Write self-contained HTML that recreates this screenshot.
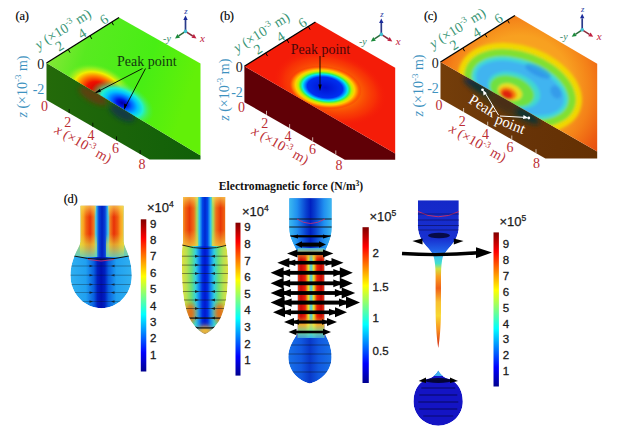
<!DOCTYPE html>
<html><head><meta charset="utf-8"><style>
html,body{margin:0;padding:0;background:#fff;overflow:hidden;}
svg{display:block;}
</style></head><body>
<svg width="631" height="435" viewBox="0 0 631 435">
<defs><filter id="blur1" x="-20%" y="-20%" width="140%" height="140%"><feGaussianBlur stdDeviation="1.2"/></filter><filter id="blur15" x="-20%" y="-20%" width="140%" height="140%"><feGaussianBlur stdDeviation="1.8"/></filter><filter id="blur2" x="-30%" y="-30%" width="160%" height="160%"><feGaussianBlur stdDeviation="2.5"/></filter><filter id="blur3" x="-30%" y="-30%" width="160%" height="160%"><feGaussianBlur stdDeviation="3.5"/></filter><clipPath id="ca_top"><polygon points="46.5,63.0 119.0,17.5 200.5,63.5 200.5,155.5"/></clipPath><clipPath id="ca_front"><polygon points="46.5,63.0 200.5,155.5 200.5,159.4 149.5,159.4 46.5,100.0"/></clipPath><linearGradient id="a_front" x1="0" y1="0" x2="1" y2="0"><stop offset="0" stop-color="#246a0a" stop-opacity="1"/><stop offset="0.5" stop-color="#1a640a" stop-opacity="1"/><stop offset="1" stop-color="#106008" stop-opacity="1"/></linearGradient><linearGradient id="a_top" x1="0" y1="0" x2="1" y2="0.3"><stop offset="0" stop-color="#98e840" stop-opacity="1"/><stop offset="0.3" stop-color="#58ea20" stop-opacity="1"/><stop offset="0.7" stop-color="#48ee14" stop-opacity="1"/><stop offset="1" stop-color="#62f008" stop-opacity="1"/></linearGradient><radialGradient id="a_red" cx="0.5" cy="0.5" r="0.5"><stop offset="0" stop-color="#c00000" stop-opacity="1"/><stop offset="0.34" stop-color="#f01000" stop-opacity="1"/><stop offset="0.54" stop-color="#ff8000" stop-opacity="1"/><stop offset="0.7" stop-color="#f0f000" stop-opacity="1"/><stop offset="0.86" stop-color="#a0f020" stop-opacity="0.6"/><stop offset="1" stop-color="#60ee20" stop-opacity="0"/></radialGradient><radialGradient id="a_blue" cx="0.5" cy="0.5" r="0.5"><stop offset="0" stop-color="#0000a0" stop-opacity="1"/><stop offset="0.15" stop-color="#0010e0" stop-opacity="1"/><stop offset="0.3" stop-color="#0060ff" stop-opacity="1"/><stop offset="0.48" stop-color="#00c0ff" stop-opacity="1"/><stop offset="0.65" stop-color="#20f0d0" stop-opacity="1"/><stop offset="0.82" stop-color="#40f080" stop-opacity="0.5"/><stop offset="1" stop-color="#40f040" stop-opacity="0"/></radialGradient><clipPath id="cb_top"><polygon points="244.4,66.2 315.4,22.0 395.2,67.8 395.2,153.4"/></clipPath><radialGradient id="b_blob" cx="0.5" cy="0.5" r="0.5"><stop offset="0" stop-color="#0010d0" stop-opacity="1"/><stop offset="0.48" stop-color="#0030f0" stop-opacity="1"/><stop offset="0.55" stop-color="#0090ff" stop-opacity="1"/><stop offset="0.61" stop-color="#00e8f0" stop-opacity="1"/><stop offset="0.67" stop-color="#40f050" stop-opacity="1"/><stop offset="0.73" stop-color="#c0f000" stop-opacity="1"/><stop offset="0.8" stop-color="#ffd000" stop-opacity="1"/><stop offset="0.9" stop-color="#ff7000" stop-opacity="1"/><stop offset="1" stop-color="#f81c08" stop-opacity="0"/></radialGradient><radialGradient id="b_halo" cx="0.5" cy="0.5" r="0.5"><stop offset="0" stop-color="#ffb000" stop-opacity="0.9"/><stop offset="0.5" stop-color="#ff9000" stop-opacity="0.65"/><stop offset="0.8" stop-color="#ff6000" stop-opacity="0.3"/><stop offset="1" stop-color="#f81c08" stop-opacity="0"/></radialGradient><clipPath id="cc_top"><polygon points="440.5,62.0 514.9,15.5 597.2,63.8 597.2,151.5"/></clipPath><clipPath id="cc_front"><polygon points="440.5,62.0 597.2,151.5 597.2,158.6 545.4,158.6 440.5,98.8"/></clipPath><radialGradient id="c_top" gradientUnits="userSpaceOnUse" cx="520" cy="88" r="105"><stop offset="0" stop-color="#f8b020"/><stop offset="0.5" stop-color="#f8a020"/><stop offset="0.68" stop-color="#f48018"/><stop offset="0.85" stop-color="#ec5c12"/><stop offset="1" stop-color="#e44810"/></radialGradient><linearGradient id="c_front" x1="0" y1="0" x2="1" y2="0"><stop offset="0" stop-color="#743e0a" stop-opacity="1"/><stop offset="0.5" stop-color="#683408" stop-opacity="1"/><stop offset="1" stop-color="#643002" stop-opacity="1"/></linearGradient><linearGradient id="jetv" x1="0" y1="1" x2="0" y2="0"><stop offset="0" stop-color="#00008f" stop-opacity="1"/><stop offset="0.125" stop-color="#0000ff" stop-opacity="1"/><stop offset="0.375" stop-color="#00ffff" stop-opacity="1"/><stop offset="0.625" stop-color="#ffff00" stop-opacity="1"/><stop offset="0.875" stop-color="#ff0000" stop-opacity="1"/><stop offset="1" stop-color="#800000" stop-opacity="1"/></linearGradient><linearGradient id="d1_neck" x1="0" y1="0" x2="1" y2="0"><stop offset="0" stop-color="#f0d040" stop-opacity="1"/><stop offset="0.08" stop-color="#f8a020" stop-opacity="1"/><stop offset="0.14" stop-color="#f06010" stop-opacity="1"/><stop offset="0.23" stop-color="#e83008" stop-opacity="1"/><stop offset="0.32" stop-color="#f08020" stop-opacity="1"/><stop offset="0.36" stop-color="#40d0f0" stop-opacity="1"/><stop offset="0.43" stop-color="#0840d8" stop-opacity="1"/><stop offset="0.5" stop-color="#0020c0" stop-opacity="1"/><stop offset="0.57" stop-color="#0840d8" stop-opacity="1"/><stop offset="0.64" stop-color="#40d0f0" stop-opacity="1"/><stop offset="0.68" stop-color="#f08020" stop-opacity="1"/><stop offset="0.77" stop-color="#e83008" stop-opacity="1"/><stop offset="0.86" stop-color="#f06010" stop-opacity="1"/><stop offset="0.92" stop-color="#f8a020" stop-opacity="1"/><stop offset="1" stop-color="#f0d040" stop-opacity="1"/></linearGradient><linearGradient id="d1_bulb" x1="0" y1="0" x2="1" y2="0"><stop offset="0" stop-color="#30b0f0" stop-opacity="1"/><stop offset="0.25" stop-color="#20a0f0" stop-opacity="1"/><stop offset="0.38" stop-color="#0860e0" stop-opacity="1"/><stop offset="0.44" stop-color="#0020c0" stop-opacity="1"/><stop offset="0.5" stop-color="#0010b0" stop-opacity="1"/><stop offset="0.56" stop-color="#0020c0" stop-opacity="1"/><stop offset="0.62" stop-color="#0860e0" stop-opacity="1"/><stop offset="0.75" stop-color="#20a0f0" stop-opacity="1"/><stop offset="1" stop-color="#30b0f0" stop-opacity="1"/></linearGradient><linearGradient id="top_yel" x1="0" y1="0" x2="0" y2="1"><stop offset="0" stop-color="#f8e060" stop-opacity="0.75"/><stop offset="1" stop-color="#f8d040" stop-opacity="0"/></linearGradient><linearGradient id="d1_fade" x1="0" y1="0" x2="0" y2="1"><stop offset="0" stop-color="#e0e040" stop-opacity="0"/><stop offset="0.45" stop-color="#e0e040" stop-opacity="0.6"/><stop offset="1" stop-color="#60d0c0" stop-opacity="0.9"/></linearGradient><clipPath id="cd1"><path d="M80.5,205.8 L123.6,205.8 L123.6,242 C125,249 131.8,258 131.8,276 C131.8,294 118,308.2 101.5,308.2 C85,308.2 70.5,294 70.5,276 C70.5,258 79,249 80.5,242 Z"/></clipPath><linearGradient id="d2_neck" x1="0" y1="0" x2="1" y2="0"><stop offset="0" stop-color="#f0d050" stop-opacity="1"/><stop offset="0.05" stop-color="#f8a030" stop-opacity="1"/><stop offset="0.11" stop-color="#f06010" stop-opacity="1"/><stop offset="0.19" stop-color="#e83808" stop-opacity="1"/><stop offset="0.28" stop-color="#f07018" stop-opacity="1"/><stop offset="0.34" stop-color="#a0e060" stop-opacity="1"/><stop offset="0.39" stop-color="#30c0f0" stop-opacity="1"/><stop offset="0.45" stop-color="#0048e8" stop-opacity="1"/><stop offset="0.5" stop-color="#0028d0" stop-opacity="1"/><stop offset="0.55" stop-color="#0048e8" stop-opacity="1"/><stop offset="0.61" stop-color="#30c0f0" stop-opacity="1"/><stop offset="0.66" stop-color="#a0e060" stop-opacity="1"/><stop offset="0.72" stop-color="#f07018" stop-opacity="1"/><stop offset="0.81" stop-color="#e83808" stop-opacity="1"/><stop offset="0.89" stop-color="#f06010" stop-opacity="1"/><stop offset="0.95" stop-color="#f8a030" stop-opacity="1"/><stop offset="1" stop-color="#f0d050" stop-opacity="1"/></linearGradient><linearGradient id="d2_body" x1="0" y1="0" x2="1" y2="0"><stop offset="0" stop-color="#e0e040" stop-opacity="1"/><stop offset="0.1" stop-color="#b8e050" stop-opacity="1"/><stop offset="0.2" stop-color="#70e070" stop-opacity="1"/><stop offset="0.3" stop-color="#30d0e0" stop-opacity="1"/><stop offset="0.38" stop-color="#1080f0" stop-opacity="1"/><stop offset="0.44" stop-color="#0030e0" stop-opacity="1"/><stop offset="0.5" stop-color="#0018d0" stop-opacity="1"/><stop offset="0.56" stop-color="#0030e0" stop-opacity="1"/><stop offset="0.62" stop-color="#1080f0" stop-opacity="1"/><stop offset="0.7" stop-color="#30d0e0" stop-opacity="1"/><stop offset="0.8" stop-color="#70e070" stop-opacity="1"/><stop offset="0.9" stop-color="#b8e050" stop-opacity="1"/><stop offset="1" stop-color="#e0e040" stop-opacity="1"/></linearGradient><linearGradient id="d2_bot" x1="0" y1="0" x2="0" y2="1"><stop offset="0" stop-color="#f08020" stop-opacity="0"/><stop offset="0.45" stop-color="#f08020" stop-opacity="0.85"/><stop offset="1" stop-color="#f8c030" stop-opacity="1"/></linearGradient><linearGradient id="d2_fade" x1="0" y1="0" x2="0" y2="1"><stop offset="0" stop-color="#f0d040" stop-opacity="0"/><stop offset="1" stop-color="#f0d040" stop-opacity="0.75"/></linearGradient><clipPath id="cd2"><path d="M183,197 L225.2,197 L225.2,243 C227.5,248 228,258 228,270 C228,292 226,308 219,321 C214,329 208,333 205,334 C202,333 196,329 191,321 C184,308 182,292 182,270 C182,258 181.5,248 183,243 Z"/></clipPath><linearGradient id="d3_top" x1="0" y1="0" x2="1" y2="0"><stop offset="0" stop-color="#40c0f0" stop-opacity="1"/><stop offset="0.2" stop-color="#2090f0" stop-opacity="1"/><stop offset="0.4" stop-color="#0840d0" stop-opacity="1"/><stop offset="0.5" stop-color="#0020c0" stop-opacity="1"/><stop offset="0.6" stop-color="#0840d0" stop-opacity="1"/><stop offset="0.8" stop-color="#2090f0" stop-opacity="1"/><stop offset="1" stop-color="#40c0f0" stop-opacity="1"/></linearGradient><linearGradient id="d3_col" x1="0" y1="0" x2="1" y2="0"><stop offset="0" stop-color="#e84010" stop-opacity="1"/><stop offset="0.12" stop-color="#c80808" stop-opacity="1"/><stop offset="0.28" stop-color="#e82008" stop-opacity="1"/><stop offset="0.4" stop-color="#e8e020" stop-opacity="1"/><stop offset="0.5" stop-color="#40c8f0" stop-opacity="1"/><stop offset="0.6" stop-color="#e8e020" stop-opacity="1"/><stop offset="0.72" stop-color="#e82008" stop-opacity="1"/><stop offset="0.88" stop-color="#c80808" stop-opacity="1"/><stop offset="1" stop-color="#e84010" stop-opacity="1"/></linearGradient><linearGradient id="d3_colbot" x1="0" y1="0" x2="0" y2="1"><stop offset="0" stop-color="#f0a020" stop-opacity="0"/><stop offset="0.4" stop-color="#f0e040" stop-opacity="0.75"/><stop offset="0.75" stop-color="#60e0b0" stop-opacity="0.9"/><stop offset="1" stop-color="#30b0f0" stop-opacity="0.9"/></linearGradient><linearGradient id="d3_coltop" x1="0" y1="0" x2="0" y2="1"><stop offset="0" stop-color="#40c0f0" stop-opacity="0.9"/><stop offset="0.4" stop-color="#f0d040" stop-opacity="0.8"/><stop offset="1" stop-color="#f08020" stop-opacity="0"/></linearGradient><linearGradient id="d3_bulb" x1="0" y1="0" x2="1" y2="0"><stop offset="0" stop-color="#1870e8" stop-opacity="1"/><stop offset="0.3" stop-color="#1058e0" stop-opacity="1"/><stop offset="0.5" stop-color="#0838c8" stop-opacity="1"/><stop offset="0.7" stop-color="#1058e0" stop-opacity="1"/><stop offset="1" stop-color="#1870e8" stop-opacity="1"/></linearGradient><clipPath id="cd3"><path d="M289.3,198.3 L331.6,198.3 L331.6,228 C331.6,238 327,246 324.5,252 L324.5,333 C327.5,339 331.6,346 331.6,357 C331.6,372 320,381 309.8,383.5 C299.6,381 288.3,372 288.3,357 C288.3,346 294.5,339 297.6,333 L297.6,252 C295,246 289.3,238 289.3,228 Z"/></clipPath><clipPath id="cd4"><path d="M417.9,200.2 L458.8,200.2 L458.8,226 C458.8,236 454,243 449,248 C446.5,251 444,254 443,257 L434,257 C433,254 430.5,251 428,248 C423,243 417.9,236 417.9,226 Z"/></clipPath><linearGradient id="d4_top" x1="0" y1="0" x2="0" y2="1"><stop offset="0" stop-color="#1428c8" stop-opacity="1"/><stop offset="0.68" stop-color="#1830d0" stop-opacity="1"/><stop offset="0.88" stop-color="#2060e8" stop-opacity="1"/><stop offset="1" stop-color="#30a0f0" stop-opacity="1"/></linearGradient><linearGradient id="d4_stream" x1="0" y1="0" x2="0" y2="1"><stop offset="0" stop-color="#40c0f0" stop-opacity="1"/><stop offset="0.08" stop-color="#40e0d0" stop-opacity="1"/><stop offset="0.14" stop-color="#d0e040" stop-opacity="1"/><stop offset="0.22" stop-color="#f8a020" stop-opacity="1"/><stop offset="0.35" stop-color="#f06018" stop-opacity="1"/><stop offset="0.5" stop-color="#f8c030" stop-opacity="1"/><stop offset="0.65" stop-color="#f8d830" stop-opacity="1"/><stop offset="0.8" stop-color="#f89020" stop-opacity="1"/><stop offset="1" stop-color="#d02010" stop-opacity="1"/></linearGradient><clipPath id="cd5"><path d="M438.3,370.5 C440,374 443,376.5 446,378 C456,380 462.8,389 462.8,401.5 C462.8,415 452,425.7 438.3,425.7 C424.6,425.7 413.5,415 413.5,401.5 C413.5,389 420,380 430.5,378 C433.5,376.5 436.5,374 438.3,370.5 Z"/></clipPath></defs>
<rect width="631" height="435" fill="#fff"/>
<polygon points="46.5,63.0 200.5,155.5 200.5,159.4 149.5,159.4 46.5,100.0" fill="url(#a_front)"/>
<polygon points="46.5,63.0 119.0,17.5 200.5,63.5 200.5,155.5" fill="url(#a_top)"/>
<g clip-path="url(#ca_top)"><ellipse cx="0" cy="0" rx="37" ry="25" fill="url(#a_red)" transform="translate(99 91) rotate(25)"/><ellipse cx="0" cy="0" rx="34" ry="20" fill="url(#a_blue)" transform="translate(122 103) rotate(25)"/></g>
<g clip-path="url(#ca_front)" filter="url(#blur2)"><ellipse cx="0" cy="0" rx="16" ry="6" fill="#6a3a0a" opacity="0.8" transform="translate(93 96) rotate(30)"/><ellipse cx="0" cy="0" rx="14" ry="6" fill="#0a2a5a" opacity="0.7" transform="translate(122 113) rotate(30)"/></g>
<polygon points="244.4,66.2 395.2,153.4 395.2,159.7 344.8,159.7 244.4,102.2" fill="#600006"/>
<polygon points="244.4,66.2 315.4,22.0 395.2,67.8 395.2,153.4" fill="#f41c08"/>
<g clip-path="url(#cb_top)"><ellipse cx="0" cy="0" rx="58" ry="36" fill="url(#b_halo)" transform="translate(330 88) rotate(15)"/><ellipse cx="0" cy="0" rx="37" ry="21.5" fill="url(#b_blob)" transform="translate(325 87.5) rotate(8)"/></g>
<polygon points="440.5,62.0 597.2,151.5 597.2,158.6 545.4,158.6 440.5,98.8" fill="url(#c_front)"/>
<polygon points="440.5,62.0 514.9,15.5 597.2,63.8 597.2,151.5" fill="url(#c_top)"/>
<g clip-path="url(#cc_top)"><g filter="url(#blur15)"><ellipse cx="0" cy="0" rx="64" ry="42" fill="#f0d800" transform="translate(520 88) rotate(20)"/><ellipse cx="0" cy="0" rx="58" ry="36" fill="#80e030" transform="translate(520 88) rotate(20)"/><ellipse cx="0" cy="0" rx="50" ry="28" fill="#40d8d8" transform="translate(520 88) rotate(20)"/><ellipse cx="0" cy="0" rx="46" ry="24" fill="#40b4f0" transform="translate(520 88) rotate(20)"/><ellipse cx="0" cy="0" rx="27" ry="17" fill="#40d8d0" transform="translate(514 90) rotate(20)"/><ellipse cx="0" cy="0" rx="23" ry="14.5" fill="#70e040" transform="translate(512 91) rotate(20)"/><ellipse cx="0" cy="0" rx="12.5" ry="8" fill="#e8e020" transform="translate(510 92) rotate(20)"/><ellipse cx="0" cy="0" rx="9" ry="6" fill="#f88010" transform="translate(508 93.5) rotate(20)"/><ellipse cx="0" cy="0" rx="6" ry="4.5" fill="#e02010" transform="translate(507 94.5) rotate(20)"/><ellipse cx="0" cy="0" rx="14" ry="5" fill="#2070e0" opacity="0.4" transform="translate(538 71) rotate(25)"/><ellipse cx="0" cy="0" rx="7" ry="5" fill="#2070e0" opacity="0.35" transform="translate(556 92) rotate(60)"/></g></g>
<g clip-path="url(#cc_front)" filter="url(#blur2)"><ellipse cx="0" cy="0" rx="15" ry="4.5" fill="#082a48" opacity="0.95" transform="translate(477 86) rotate(30)"/><ellipse cx="0" cy="0" rx="14" ry="4.5" fill="#082a48" opacity="0.95" transform="translate(527 116) rotate(30)"/><ellipse cx="0" cy="0" rx="13" ry="6" fill="#7a1a06" opacity="0.8" transform="translate(504 103) rotate(30)"/><ellipse cx="0" cy="0" rx="40" ry="8" fill="#1a3a20" opacity="0.5" transform="translate(505 104) rotate(30)"/></g>
<line x1="46.5" y1="63" x2="119" y2="17.5" stroke="#000" stroke-width="1.3"/>
<line x1="68.2" y1="49.4" x2="70.0" y2="52.6" stroke="#000" stroke-width="1"/>
<line x1="90.0" y1="35.7" x2="91.8" y2="38.9" stroke="#000" stroke-width="1"/>
<line x1="111.8" y1="22.0" x2="113.5" y2="25.2" stroke="#000" stroke-width="1"/>
<line x1="69.2" y1="113.1" x2="69.2" y2="109.1" stroke="#000" stroke-width="1" opacity="0.75"/>
<line x1="92.8" y1="126.7" x2="92.8" y2="122.7" stroke="#000" stroke-width="1" opacity="0.75"/>
<line x1="116.5" y1="140.4" x2="116.5" y2="136.4" stroke="#000" stroke-width="1" opacity="0.75"/>
<line x1="140.2" y1="154.1" x2="140.2" y2="150.1" stroke="#000" stroke-width="1" opacity="0.75"/>
<line x1="244.4" y1="66.2" x2="315.4" y2="22" stroke="#000" stroke-width="1.3"/>
<line x1="265.7" y1="52.9" x2="267.5" y2="56.1" stroke="#000" stroke-width="1"/>
<line x1="287.0" y1="39.7" x2="288.8" y2="42.9" stroke="#000" stroke-width="1"/>
<line x1="308.3" y1="26.4" x2="310.1" y2="29.6" stroke="#000" stroke-width="1"/>
<line x1="266.5" y1="114.8" x2="266.5" y2="110.8" stroke="#f0e8e0" stroke-width="1" opacity="0.75"/>
<line x1="289.6" y1="128.1" x2="289.6" y2="124.1" stroke="#f0e8e0" stroke-width="1" opacity="0.75"/>
<line x1="312.7" y1="141.3" x2="312.7" y2="137.3" stroke="#f0e8e0" stroke-width="1" opacity="0.75"/>
<line x1="335.8" y1="154.5" x2="335.8" y2="150.5" stroke="#f0e8e0" stroke-width="1" opacity="0.75"/>
<line x1="440.5" y1="62" x2="514.9" y2="15.5" stroke="#000" stroke-width="1.3"/>
<line x1="462.8" y1="48.0" x2="464.6" y2="51.2" stroke="#000" stroke-width="1"/>
<line x1="485.1" y1="34.1" x2="486.9" y2="37.3" stroke="#000" stroke-width="1"/>
<line x1="507.5" y1="20.1" x2="509.3" y2="23.3" stroke="#000" stroke-width="1"/>
<line x1="463.6" y1="112.0" x2="463.6" y2="108.0" stroke="#f0e8e0" stroke-width="1" opacity="0.75"/>
<line x1="487.7" y1="125.7" x2="487.7" y2="121.7" stroke="#f0e8e0" stroke-width="1" opacity="0.75"/>
<line x1="511.8" y1="139.5" x2="511.8" y2="135.5" stroke="#f0e8e0" stroke-width="1" opacity="0.75"/>
<line x1="536.0" y1="153.2" x2="536.0" y2="149.2" stroke="#f0e8e0" stroke-width="1" opacity="0.75"/>
<text x="62.0" y="50.0" font-family='"Liberation Serif", serif' font-size="14" fill="#3a9676" text-anchor="middle" font-weight="normal" font-style="normal" transform="rotate(-32 62.0 50.0)">2</text>
<text x="84.5" y="37.5" font-family='"Liberation Serif", serif' font-size="14" fill="#3a9676" text-anchor="middle" font-weight="normal" font-style="normal" transform="rotate(-32 84.5 37.5)">4</text>
<text x="106.5" y="23.5" font-family='"Liberation Serif", serif' font-size="14" fill="#3a9676" text-anchor="middle" font-weight="normal" font-style="normal" transform="rotate(-32 106.5 23.5)">6</text>
<text x="65.5" y="33.0" font-family='"Liberation Serif", serif' font-size="14" fill="#3a9676" text-anchor="middle" font-weight="normal" font-style="normal" transform="rotate(-32 65.5 33.0)"><tspan font-style="italic">y</tspan> (×10<tspan font-size="9" dy="-5.5">-3</tspan><tspan dy="5.5"> m)</tspan></text>
<text x="40.8" y="68.5" font-family='"Liberation Serif", serif' font-size="14" fill="#222" text-anchor="middle" font-weight="normal" font-style="normal">0</text>
<text x="38.5" y="93.5" font-family='"Liberation Serif", serif' font-size="14" fill="#3e92c0" text-anchor="middle" font-weight="normal" font-style="normal">-2</text>
<text x="26.5" y="86.5" font-family='"Liberation Serif", serif' font-size="14" fill="#3e92c0" text-anchor="middle" font-weight="normal" font-style="normal" transform="rotate(-90 26.5 86.5)"><tspan font-style="italic">z</tspan> (×10<tspan font-size="9" dy="-5.5">-3</tspan><tspan dy="5.5"> m)</tspan></text>
<text x="44.5" y="111.0" font-family='"Liberation Serif", serif' font-size="14" fill="#bc2e34" text-anchor="middle" font-weight="normal" font-style="normal">0</text>
<text x="67.7" y="126.5" font-family='"Liberation Serif", serif' font-size="14" fill="#bc2e34" text-anchor="middle" font-weight="normal" font-style="normal">2</text>
<text x="91.0" y="140.0" font-family='"Liberation Serif", serif' font-size="14" fill="#bc2e34" text-anchor="middle" font-weight="normal" font-style="normal">4</text>
<text x="115.4" y="153.0" font-family='"Liberation Serif", serif' font-size="14" fill="#bc2e34" text-anchor="middle" font-weight="normal" font-style="normal">6</text>
<text x="142.0" y="168.5" font-family='"Liberation Serif", serif' font-size="14" fill="#bc2e34" text-anchor="middle" font-weight="normal" font-style="normal">8</text>
<text x="81.0" y="148.0" font-family='"Liberation Serif", serif' font-size="14" fill="#bc2e34" text-anchor="middle" font-weight="normal" font-style="normal" transform="rotate(30 81.0 148.0)"><tspan font-style="italic">x</tspan> (×10<tspan font-size="9" dy="-5.5">-3</tspan><tspan dy="5.5"> m)</tspan></text>
<text x="260.5" y="53.2" font-family='"Liberation Serif", serif' font-size="14" fill="#3a9676" text-anchor="middle" font-weight="normal" font-style="normal" transform="rotate(-32 260.5 53.2)">2</text>
<text x="283.0" y="40.7" font-family='"Liberation Serif", serif' font-size="14" fill="#3a9676" text-anchor="middle" font-weight="normal" font-style="normal" transform="rotate(-32 283.0 40.7)">4</text>
<text x="305.0" y="26.7" font-family='"Liberation Serif", serif' font-size="14" fill="#3a9676" text-anchor="middle" font-weight="normal" font-style="normal" transform="rotate(-32 305.0 26.7)">6</text>
<text x="264.0" y="36.2" font-family='"Liberation Serif", serif' font-size="14" fill="#3a9676" text-anchor="middle" font-weight="normal" font-style="normal" transform="rotate(-32 264.0 36.2)"><tspan font-style="italic">y</tspan> (×10<tspan font-size="9" dy="-5.5">-3</tspan><tspan dy="5.5"> m)</tspan></text>
<text x="239.3" y="71.7" font-family='"Liberation Serif", serif' font-size="14" fill="#222" text-anchor="middle" font-weight="normal" font-style="normal">0</text>
<text x="237.0" y="96.7" font-family='"Liberation Serif", serif' font-size="14" fill="#3e92c0" text-anchor="middle" font-weight="normal" font-style="normal">-2</text>
<text x="229.0" y="89.7" font-family='"Liberation Serif", serif' font-size="14" fill="#3e92c0" text-anchor="middle" font-weight="normal" font-style="normal" transform="rotate(-90 229.0 89.7)"><tspan font-style="italic">z</tspan> (×10<tspan font-size="9" dy="-5.5">-3</tspan><tspan dy="5.5"> m)</tspan></text>
<text x="241.5" y="112.2" font-family='"Liberation Serif", serif' font-size="14" fill="#bc2e34" text-anchor="middle" font-weight="normal" font-style="normal">0</text>
<text x="264.7" y="127.7" font-family='"Liberation Serif", serif' font-size="14" fill="#bc2e34" text-anchor="middle" font-weight="normal" font-style="normal">2</text>
<text x="288.0" y="141.2" font-family='"Liberation Serif", serif' font-size="14" fill="#bc2e34" text-anchor="middle" font-weight="normal" font-style="normal">4</text>
<text x="312.4" y="154.2" font-family='"Liberation Serif", serif' font-size="14" fill="#bc2e34" text-anchor="middle" font-weight="normal" font-style="normal">6</text>
<text x="339.0" y="169.7" font-family='"Liberation Serif", serif' font-size="14" fill="#bc2e34" text-anchor="middle" font-weight="normal" font-style="normal">8</text>
<text x="278.0" y="149.2" font-family='"Liberation Serif", serif' font-size="14" fill="#bc2e34" text-anchor="middle" font-weight="normal" font-style="normal" transform="rotate(30 278.0 149.2)"><tspan font-style="italic">x</tspan> (×10<tspan font-size="9" dy="-5.5">-3</tspan><tspan dy="5.5"> m)</tspan></text>
<text x="456.5" y="49.0" font-family='"Liberation Serif", serif' font-size="14" fill="#3a9676" text-anchor="middle" font-weight="normal" font-style="normal" transform="rotate(-32 456.5 49.0)">2</text>
<text x="479.0" y="36.5" font-family='"Liberation Serif", serif' font-size="14" fill="#3a9676" text-anchor="middle" font-weight="normal" font-style="normal" transform="rotate(-32 479.0 36.5)">4</text>
<text x="501.0" y="22.5" font-family='"Liberation Serif", serif' font-size="14" fill="#3a9676" text-anchor="middle" font-weight="normal" font-style="normal" transform="rotate(-32 501.0 22.5)">6</text>
<text x="460.0" y="32.0" font-family='"Liberation Serif", serif' font-size="14" fill="#3a9676" text-anchor="middle" font-weight="normal" font-style="normal" transform="rotate(-32 460.0 32.0)"><tspan font-style="italic">y</tspan> (×10<tspan font-size="9" dy="-5.5">-3</tspan><tspan dy="5.5"> m)</tspan></text>
<text x="435.3" y="67.5" font-family='"Liberation Serif", serif' font-size="14" fill="#222" text-anchor="middle" font-weight="normal" font-style="normal">0</text>
<text x="433.0" y="92.5" font-family='"Liberation Serif", serif' font-size="14" fill="#3e92c0" text-anchor="middle" font-weight="normal" font-style="normal">-2</text>
<text x="423.0" y="85.5" font-family='"Liberation Serif", serif' font-size="14" fill="#3e92c0" text-anchor="middle" font-weight="normal" font-style="normal" transform="rotate(-90 423.0 85.5)"><tspan font-style="italic">z</tspan> (×10<tspan font-size="9" dy="-5.5">-3</tspan><tspan dy="5.5"> m)</tspan></text>
<text x="439.0" y="110.0" font-family='"Liberation Serif", serif' font-size="14" fill="#bc2e34" text-anchor="middle" font-weight="normal" font-style="normal">0</text>
<text x="462.2" y="125.5" font-family='"Liberation Serif", serif' font-size="14" fill="#bc2e34" text-anchor="middle" font-weight="normal" font-style="normal">2</text>
<text x="485.5" y="139.0" font-family='"Liberation Serif", serif' font-size="14" fill="#bc2e34" text-anchor="middle" font-weight="normal" font-style="normal">4</text>
<text x="509.9" y="152.0" font-family='"Liberation Serif", serif' font-size="14" fill="#bc2e34" text-anchor="middle" font-weight="normal" font-style="normal">6</text>
<text x="536.5" y="167.5" font-family='"Liberation Serif", serif' font-size="14" fill="#bc2e34" text-anchor="middle" font-weight="normal" font-style="normal">8</text>
<text x="475.5" y="147.0" font-family='"Liberation Serif", serif' font-size="14" fill="#bc2e34" text-anchor="middle" font-weight="normal" font-style="normal" transform="rotate(30 475.5 147.0)"><tspan font-style="italic">x</tspan> (×10<tspan font-size="9" dy="-5.5">-3</tspan><tspan dy="5.5"> m)</tspan></text>
<text letter-spacing="-0.3" stroke="#000" stroke-width="0.15" x="22.1" y="19.6" font-family='"Liberation Serif", serif' font-size="12.5" fill="#000" text-anchor="middle" font-weight="normal" font-style="normal">(a)</text>
<text letter-spacing="-0.3" stroke="#000" stroke-width="0.15" x="226.9" y="20.2" font-family='"Liberation Serif", serif' font-size="12.5" fill="#000" text-anchor="middle" font-weight="normal" font-style="normal">(b)</text>
<text letter-spacing="-0.3" stroke="#000" stroke-width="0.15" x="430.5" y="19.8" font-family='"Liberation Serif", serif' font-size="12.5" fill="#000" text-anchor="middle" font-weight="normal" font-style="normal">(c)</text>
<line x1="185.5" y1="31.4" x2="185.5" y2="19.9" stroke="#2a3a8a" stroke-width="1.7"/>
<polygon points="185.5,15.4 187.7,19.9 183.3,19.9" fill="#1a2a9a"/>
<line x1="185.5" y1="31.4" x2="178.7" y2="35.9" stroke="#2a6a3a" stroke-width="1.5"/>
<polygon points="175.0,38.4 177.5,34.1 180.0,37.7" fill="#1a8a3a"/>
<line x1="185.5" y1="31.4" x2="192.7" y2="36.0" stroke="#8a2a3a" stroke-width="1.5"/>
<polygon points="196.5,38.4 191.5,37.8 193.9,34.1" fill="#c02040"/>
<circle cx="185.5" cy="31.4" r="1.8" fill="#40c0d0"/>
<text x="186.0" y="13.9" font-family='"Liberation Serif", serif' font-size="8.5" fill="#2a3aa0" text-anchor="middle" font-weight="normal" font-style="italic">z</text>
<text x="167.0" y="41.9" font-family='"Liberation Serif", serif' font-size="10" fill="#3a8a6a" text-anchor="middle" font-weight="normal" font-style="italic">-y</text>
<text x="202.5" y="41.9" font-family='"Liberation Serif", serif' font-size="11" fill="#c02040" text-anchor="middle" font-weight="normal" font-style="italic">x</text>
<line x1="381.3" y1="34.4" x2="381.3" y2="22.9" stroke="#2a3a8a" stroke-width="1.7"/>
<polygon points="381.3,18.4 383.5,22.9 379.1,22.9" fill="#1a2a9a"/>
<line x1="381.3" y1="34.4" x2="374.5" y2="38.9" stroke="#2a6a3a" stroke-width="1.5"/>
<polygon points="370.8,41.4 373.3,37.1 375.8,40.7" fill="#1a8a3a"/>
<line x1="381.3" y1="34.4" x2="388.5" y2="39.0" stroke="#8a2a3a" stroke-width="1.5"/>
<polygon points="392.3,41.4 387.3,40.8 389.7,37.1" fill="#c02040"/>
<circle cx="381.3" cy="34.4" r="1.8" fill="#40c0d0"/>
<text x="381.8" y="16.9" font-family='"Liberation Serif", serif' font-size="8.5" fill="#2a3aa0" text-anchor="middle" font-weight="normal" font-style="italic">z</text>
<text x="362.8" y="44.9" font-family='"Liberation Serif", serif' font-size="10" fill="#3a8a6a" text-anchor="middle" font-weight="normal" font-style="italic">-y</text>
<text x="398.3" y="44.9" font-family='"Liberation Serif", serif' font-size="11" fill="#c02040" text-anchor="middle" font-weight="normal" font-style="italic">x</text>
<line x1="582.2" y1="29.8" x2="582.2" y2="18.3" stroke="#2a3a8a" stroke-width="1.7"/>
<polygon points="582.2,13.8 584.4,18.3 580.0,18.3" fill="#1a2a9a"/>
<line x1="582.2" y1="29.8" x2="575.4" y2="34.3" stroke="#2a6a3a" stroke-width="1.5"/>
<polygon points="571.7,36.8 574.2,32.5 576.7,36.1" fill="#1a8a3a"/>
<line x1="582.2" y1="29.8" x2="589.4" y2="34.4" stroke="#8a2a3a" stroke-width="1.5"/>
<polygon points="593.2,36.8 588.2,36.2 590.6,32.5" fill="#c02040"/>
<circle cx="582.2" cy="29.8" r="1.8" fill="#40c0d0"/>
<text x="582.7" y="12.3" font-family='"Liberation Serif", serif' font-size="8.5" fill="#2a3aa0" text-anchor="middle" font-weight="normal" font-style="italic">z</text>
<text x="563.7" y="40.3" font-family='"Liberation Serif", serif' font-size="10" fill="#3a8a6a" text-anchor="middle" font-weight="normal" font-style="italic">-y</text>
<text x="599.2" y="40.3" font-family='"Liberation Serif", serif' font-size="11" fill="#c02040" text-anchor="middle" font-weight="normal" font-style="italic">x</text>
<text x="146.8" y="66.2" font-family='"Liberation Serif", serif' font-size="14" fill="#123a10" text-anchor="middle" font-weight="normal" font-style="normal">Peak point</text>
<line x1="142.5" y1="68.5" x2="96" y2="92.5" stroke="#000" stroke-width="0.9"/>
<polygon points="94.5,93.3 100,88.8 100.8,91.8" fill="#000"/>
<line x1="145.5" y1="68.5" x2="124.5" y2="108.5" stroke="#000" stroke-width="0.9"/>
<polygon points="124,110 124.2,103.6 127.0,105.1" fill="#000"/>
<text x="320.5" y="53.5" font-family='"Liberation Serif", serif' font-size="14" fill="#4a0808" text-anchor="middle" font-weight="normal" font-style="normal">Peak point</text>
<line x1="320" y1="56" x2="320" y2="88" stroke="#000" stroke-width="0.9"/>
<polygon points="318.3,84.5 321.7,84.5 320,91" fill="#000"/>
<text x="480.0" y="110.0" font-family='"Liberation Serif", serif' font-size="15" fill="#fff" text-anchor="middle" font-weight="normal" font-style="normal" transform="rotate(32 480.0 110.0)">Peak</text>
<text x="508.5" y="128.5" font-family='"Liberation Serif", serif' font-size="15" fill="#fff" text-anchor="middle" font-weight="normal" font-style="normal" transform="rotate(22 508.5 128.5)">point</text>
<line x1="498.6" y1="115.2" x2="484.5" y2="92" stroke="#fff" stroke-width="1"/>
<polygon points="483,90 483.5,95.5 486.8,93.3" fill="#fff"/>
<circle cx="482.5" cy="89.8" r="1.4" fill="#fff"/>
<line x1="500" y1="116" x2="527" y2="117.5" stroke="#fff" stroke-width="1"/>
<polygon points="528.5,118 523.5,115 523,119" fill="#fff"/>
<circle cx="528.8" cy="118" r="1.4" fill="#fff"/>
<text letter-spacing="-0.3" stroke="#000" stroke-width="0.15" x="70.6" y="202.9" font-family='"Liberation Serif", serif' font-size="12.5" fill="#000" text-anchor="middle" font-weight="normal" font-style="normal">(d)</text>
<text x="291.0" y="190.0" font-family='"Liberation Serif", serif' font-size="11.6" fill="#111" text-anchor="middle" font-weight="bold" font-style="normal">Electromagnetic force (N/m<tspan font-size="7.5" dy="-4">3</tspan><tspan dy="4">)</tspan></text>
<rect x="140.8" y="219.3" width="5.5" height="152.2" fill="url(#jetv)"/>
<text stroke="#1a1a1a" stroke-width="0.3" x="150.1" y="227.5" font-family='"Liberation Sans", sans-serif' font-size="11.5" fill="#1a1a1a" text-anchor="start" font-weight="normal" font-style="normal">9</text>
<text stroke="#1a1a1a" stroke-width="0.3" x="150.1" y="243.9" font-family='"Liberation Sans", sans-serif' font-size="11.5" fill="#1a1a1a" text-anchor="start" font-weight="normal" font-style="normal">8</text>
<text stroke="#1a1a1a" stroke-width="0.3" x="150.1" y="260.3" font-family='"Liberation Sans", sans-serif' font-size="11.5" fill="#1a1a1a" text-anchor="start" font-weight="normal" font-style="normal">7</text>
<text stroke="#1a1a1a" stroke-width="0.3" x="150.1" y="276.7" font-family='"Liberation Sans", sans-serif' font-size="11.5" fill="#1a1a1a" text-anchor="start" font-weight="normal" font-style="normal">6</text>
<text stroke="#1a1a1a" stroke-width="0.3" x="150.1" y="293.1" font-family='"Liberation Sans", sans-serif' font-size="11.5" fill="#1a1a1a" text-anchor="start" font-weight="normal" font-style="normal">5</text>
<text stroke="#1a1a1a" stroke-width="0.3" x="150.1" y="309.5" font-family='"Liberation Sans", sans-serif' font-size="11.5" fill="#1a1a1a" text-anchor="start" font-weight="normal" font-style="normal">4</text>
<text stroke="#1a1a1a" stroke-width="0.3" x="150.1" y="325.9" font-family='"Liberation Sans", sans-serif' font-size="11.5" fill="#1a1a1a" text-anchor="start" font-weight="normal" font-style="normal">3</text>
<text stroke="#1a1a1a" stroke-width="0.3" x="150.1" y="342.3" font-family='"Liberation Sans", sans-serif' font-size="11.5" fill="#1a1a1a" text-anchor="start" font-weight="normal" font-style="normal">2</text>
<text stroke="#1a1a1a" stroke-width="0.3" x="150.1" y="358.7" font-family='"Liberation Sans", sans-serif' font-size="11.5" fill="#1a1a1a" text-anchor="start" font-weight="normal" font-style="normal">1</text>
<text stroke="#1a1a1a" stroke-width="0.25" x="147.0" y="212.0" font-family='"Liberation Sans", sans-serif' font-size="13" fill="#1a1a1a" text-anchor="start" font-weight="normal" font-style="normal">×10<tspan font-size="8.5" dy="-5">4</tspan></text>
<rect x="235.5" y="222.7" width="5.0" height="152.9" fill="url(#jetv)"/>
<text stroke="#1a1a1a" stroke-width="0.3" x="244.3" y="231.4" font-family='"Liberation Sans", sans-serif' font-size="11.5" fill="#1a1a1a" text-anchor="start" font-weight="normal" font-style="normal">9</text>
<text stroke="#1a1a1a" stroke-width="0.3" x="244.3" y="248.0" font-family='"Liberation Sans", sans-serif' font-size="11.5" fill="#1a1a1a" text-anchor="start" font-weight="normal" font-style="normal">8</text>
<text stroke="#1a1a1a" stroke-width="0.3" x="244.3" y="264.6" font-family='"Liberation Sans", sans-serif' font-size="11.5" fill="#1a1a1a" text-anchor="start" font-weight="normal" font-style="normal">7</text>
<text stroke="#1a1a1a" stroke-width="0.3" x="244.3" y="281.2" font-family='"Liberation Sans", sans-serif' font-size="11.5" fill="#1a1a1a" text-anchor="start" font-weight="normal" font-style="normal">6</text>
<text stroke="#1a1a1a" stroke-width="0.3" x="244.3" y="297.8" font-family='"Liberation Sans", sans-serif' font-size="11.5" fill="#1a1a1a" text-anchor="start" font-weight="normal" font-style="normal">5</text>
<text stroke="#1a1a1a" stroke-width="0.3" x="244.3" y="314.4" font-family='"Liberation Sans", sans-serif' font-size="11.5" fill="#1a1a1a" text-anchor="start" font-weight="normal" font-style="normal">4</text>
<text stroke="#1a1a1a" stroke-width="0.3" x="244.3" y="331.0" font-family='"Liberation Sans", sans-serif' font-size="11.5" fill="#1a1a1a" text-anchor="start" font-weight="normal" font-style="normal">3</text>
<text stroke="#1a1a1a" stroke-width="0.3" x="244.3" y="347.6" font-family='"Liberation Sans", sans-serif' font-size="11.5" fill="#1a1a1a" text-anchor="start" font-weight="normal" font-style="normal">2</text>
<text stroke="#1a1a1a" stroke-width="0.3" x="244.3" y="364.2" font-family='"Liberation Sans", sans-serif' font-size="11.5" fill="#1a1a1a" text-anchor="start" font-weight="normal" font-style="normal">1</text>
<text stroke="#1a1a1a" stroke-width="0.25" x="242.0" y="216.0" font-family='"Liberation Sans", sans-serif' font-size="13" fill="#1a1a1a" text-anchor="start" font-weight="normal" font-style="normal">×10<tspan font-size="8.5" dy="-5">4</tspan></text>
<rect x="362.5" y="227.2" width="6.3" height="155.8" fill="url(#jetv)"/>
<text stroke="#1a1a1a" stroke-width="0.3" x="372.6" y="256.6" font-family='"Liberation Sans", sans-serif' font-size="11.5" fill="#1a1a1a" text-anchor="start" font-weight="normal" font-style="normal">2</text>
<text stroke="#1a1a1a" stroke-width="0.3" x="372.6" y="291.1" font-family='"Liberation Sans", sans-serif' font-size="11.5" fill="#1a1a1a" text-anchor="start" font-weight="normal" font-style="normal">1.5</text>
<text stroke="#1a1a1a" stroke-width="0.3" x="372.6" y="322.4" font-family='"Liberation Sans", sans-serif' font-size="11.5" fill="#1a1a1a" text-anchor="start" font-weight="normal" font-style="normal">1</text>
<text stroke="#1a1a1a" stroke-width="0.3" x="372.6" y="355.1" font-family='"Liberation Sans", sans-serif' font-size="11.5" fill="#1a1a1a" text-anchor="start" font-weight="normal" font-style="normal">0.5</text>
<text stroke="#1a1a1a" stroke-width="0.25" x="369.5" y="220.5" font-family='"Liberation Sans", sans-serif' font-size="13" fill="#1a1a1a" text-anchor="start" font-weight="normal" font-style="normal">×10<tspan font-size="8.5" dy="-5">5</tspan></text>
<rect x="493.5" y="232.4" width="5.4" height="154.1" fill="url(#jetv)"/>
<text stroke="#1a1a1a" stroke-width="0.3" x="502.7" y="248.4" font-family='"Liberation Sans", sans-serif' font-size="11.5" fill="#1a1a1a" text-anchor="start" font-weight="normal" font-style="normal">9</text>
<text stroke="#1a1a1a" stroke-width="0.3" x="502.7" y="264.2" font-family='"Liberation Sans", sans-serif' font-size="11.5" fill="#1a1a1a" text-anchor="start" font-weight="normal" font-style="normal">8</text>
<text stroke="#1a1a1a" stroke-width="0.3" x="502.7" y="280.1" font-family='"Liberation Sans", sans-serif' font-size="11.5" fill="#1a1a1a" text-anchor="start" font-weight="normal" font-style="normal">7</text>
<text stroke="#1a1a1a" stroke-width="0.3" x="502.7" y="295.9" font-family='"Liberation Sans", sans-serif' font-size="11.5" fill="#1a1a1a" text-anchor="start" font-weight="normal" font-style="normal">6</text>
<text stroke="#1a1a1a" stroke-width="0.3" x="502.7" y="311.8" font-family='"Liberation Sans", sans-serif' font-size="11.5" fill="#1a1a1a" text-anchor="start" font-weight="normal" font-style="normal">5</text>
<text stroke="#1a1a1a" stroke-width="0.3" x="502.7" y="327.6" font-family='"Liberation Sans", sans-serif' font-size="11.5" fill="#1a1a1a" text-anchor="start" font-weight="normal" font-style="normal">4</text>
<text stroke="#1a1a1a" stroke-width="0.3" x="502.7" y="343.4" font-family='"Liberation Sans", sans-serif' font-size="11.5" fill="#1a1a1a" text-anchor="start" font-weight="normal" font-style="normal">3</text>
<text stroke="#1a1a1a" stroke-width="0.3" x="502.7" y="359.3" font-family='"Liberation Sans", sans-serif' font-size="11.5" fill="#1a1a1a" text-anchor="start" font-weight="normal" font-style="normal">2</text>
<text stroke="#1a1a1a" stroke-width="0.3" x="502.7" y="375.1" font-family='"Liberation Sans", sans-serif' font-size="11.5" fill="#1a1a1a" text-anchor="start" font-weight="normal" font-style="normal">1</text>
<text stroke="#1a1a1a" stroke-width="0.25" x="499.5" y="225.5" font-family='"Liberation Sans", sans-serif' font-size="13" fill="#1a1a1a" text-anchor="start" font-weight="normal" font-style="normal">×10<tspan font-size="8.5" dy="-5">5</tspan></text>
<g clip-path="url(#cd1)"><path d="M80.5,205.8 L123.6,205.8 L123.6,242 C125,249 131.8,258 131.8,276 C131.8,294 118,308.2 101.5,308.2 C85,308.2 70.5,294 70.5,276 C70.5,258 79,249 80.5,242 Z" fill="url(#d1_bulb)"/><rect x="80" y="205" width="44" height="52" fill="url(#d1_neck)"/><rect x="80" y="205" width="16" height="12" fill="url(#top_yel)"/><rect x="108" y="205" width="16" height="12" fill="url(#top_yel)"/><rect x="70" y="234" width="27" height="23" fill="url(#d1_fade)"/><rect x="106" y="234" width="27" height="23" fill="url(#d1_fade)"/><path d="M74,256 Q101,262.5 129,256" stroke="#111" stroke-width="1" fill="none"/><path d="M88,259.5 Q101,262.5 114,259.5" stroke="#e03060" stroke-width="0.8" fill="none"/><line x1="70" y1="266" x2="132" y2="266" stroke="#111" stroke-width="0.6" opacity="0.55"/><polygon points="93,266 89.5,264.7 89.5,267.3" fill="#111" opacity="0.7"/><polygon points="111,266 114.5,264.7 114.5,267.3" fill="#111" opacity="0.7"/><line x1="70" y1="275.2" x2="132" y2="275.2" stroke="#111" stroke-width="0.6" opacity="0.55"/><polygon points="93,275.2 89.5,273.9 89.5,276.5" fill="#111" opacity="0.7"/><polygon points="111,275.2 114.5,273.9 114.5,276.5" fill="#111" opacity="0.7"/><line x1="70" y1="284.5" x2="132" y2="284.5" stroke="#111" stroke-width="0.6" opacity="0.55"/><polygon points="93,284.5 89.5,283.2 89.5,285.8" fill="#111" opacity="0.7"/><polygon points="111,284.5 114.5,283.2 114.5,285.8" fill="#111" opacity="0.7"/><line x1="70" y1="292.6" x2="132" y2="292.6" stroke="#111" stroke-width="0.6" opacity="0.55"/><polygon points="93,292.6 89.5,291.3 89.5,293.90000000000003" fill="#111" opacity="0.7"/><polygon points="111,292.6 114.5,291.3 114.5,293.90000000000003" fill="#111" opacity="0.7"/><line x1="70" y1="301.6" x2="132" y2="301.6" stroke="#111" stroke-width="0.6" opacity="0.55"/><polygon points="93,301.6 89.5,300.3 89.5,302.90000000000003" fill="#111" opacity="0.7"/><polygon points="111,301.6 114.5,300.3 114.5,302.90000000000003" fill="#111" opacity="0.7"/></g>
<g clip-path="url(#cd2)"><path d="M183,197 L225.2,197 L225.2,243 C227.5,248 228,258 228,270 C228,292 226,308 219,321 C214,329 208,333 205,334 C202,333 196,329 191,321 C184,308 182,292 182,270 C182,258 181.5,248 183,243 Z" fill="url(#d2_body)"/><rect x="180" y="196" width="50" height="50" fill="url(#d2_neck)"/><rect x="180" y="196" width="18" height="12" fill="url(#top_yel)"/><rect x="212" y="196" width="18" height="12" fill="url(#top_yel)"/><rect x="180" y="230" width="18" height="16" fill="url(#d2_fade)"/><rect x="212" y="230" width="18" height="16" fill="url(#d2_fade)"/><g filter="url(#blur2)"><ellipse cx="190.5" cy="313" rx="5" ry="10" fill="#f06010" opacity="0.9"/><ellipse cx="219.5" cy="313" rx="5" ry="10" fill="#f06010" opacity="0.9"/><ellipse cx="205" cy="331" rx="8" ry="5" fill="#f8c030"/></g><path d="M182,245 Q205,252 228,245" stroke="#111" stroke-width="0.9" fill="none"/><line x1="180" y1="256.2" x2="230" y2="256.2" stroke="#111" stroke-width="0.7" opacity="0.7"/><polygon points="199,256.2 195,254.7 195,257.7" fill="#111" opacity="0.8"/><polygon points="211,256.2 215,254.7 215,257.7" fill="#111" opacity="0.8"/><line x1="180" y1="265.1" x2="230" y2="265.1" stroke="#111" stroke-width="0.7" opacity="0.7"/><polygon points="199,265.1 195,263.6 195,266.6" fill="#111" opacity="0.8"/><polygon points="211,265.1 215,263.6 215,266.6" fill="#111" opacity="0.8"/><line x1="180" y1="273.6" x2="230" y2="273.6" stroke="#111" stroke-width="0.7" opacity="0.7"/><polygon points="199,273.6 195,272.1 195,275.1" fill="#111" opacity="0.8"/><polygon points="211,273.6 215,272.1 215,275.1" fill="#111" opacity="0.8"/><line x1="180" y1="282.7" x2="230" y2="282.7" stroke="#111" stroke-width="0.7" opacity="0.7"/><polygon points="199,282.7 195,281.2 195,284.2" fill="#111" opacity="0.8"/><polygon points="211,282.7 215,281.2 215,284.2" fill="#111" opacity="0.8"/><line x1="180" y1="291.6" x2="230" y2="291.6" stroke="#111" stroke-width="0.7" opacity="0.7"/><polygon points="199,291.6 195,290.1 195,293.1" fill="#111" opacity="0.8"/><polygon points="211,291.6 215,290.1 215,293.1" fill="#111" opacity="0.8"/><line x1="180" y1="300" x2="230" y2="300" stroke="#111" stroke-width="0.7" opacity="0.7"/><polygon points="199,300 195,298.5 195,301.5" fill="#111" opacity="0.8"/><polygon points="211,300 215,298.5 215,301.5" fill="#111" opacity="0.8"/><line x1="180" y1="308.5" x2="230" y2="308.5" stroke="#111" stroke-width="0.7" opacity="0.7"/><polygon points="199,308.5 195,307.0 195,310.0" fill="#111" opacity="0.8"/><polygon points="211,308.5 215,307.0 215,310.0" fill="#111" opacity="0.8"/><line x1="180" y1="318.1" x2="230" y2="318.1" stroke="#111" stroke-width="1.8" opacity="0.7"/><polygon points="199,318.1 195,316.6 195,319.6" fill="#111" opacity="0.8"/><polygon points="211,318.1 215,316.6 215,319.6" fill="#111" opacity="0.8"/><line x1="180" y1="327.8" x2="230" y2="327.8" stroke="#111" stroke-width="1.8" opacity="0.7"/><polygon points="199,327.8 195,326.3 195,329.3" fill="#111" opacity="0.8"/><polygon points="211,327.8 215,326.3 215,329.3" fill="#111" opacity="0.8"/></g>
<g clip-path="url(#cd3)"><path d="M289.3,198.3 L331.6,198.3 L331.6,228 C331.6,238 327,246 324.5,252 L324.5,333 C327.5,339 331.6,346 331.6,357 C331.6,372 320,381 309.8,383.5 C299.6,381 288.3,372 288.3,357 C288.3,346 294.5,339 297.6,333 L297.6,252 C295,246 289.3,238 289.3,228 Z" fill="url(#d3_bulb)"/><rect x="288" y="198" width="45" height="56" fill="url(#d3_top)"/><rect x="297.6" y="252" width="26.9" height="86" fill="url(#d3_col)"/><rect x="297.6" y="316" width="26.9" height="22" fill="url(#d3_colbot)"/><rect x="297.6" y="248" width="26.9" height="12" fill="url(#d3_coltop)"/><path d="M288,219 L333,219 M288,227 L333,227" stroke="#111" stroke-width="0.9"/><path d="M288,236 L333,236" stroke="#111" stroke-width="1.6"/><path d="M297,219 Q310,228 325,219" stroke="#d03070" stroke-width="0.8" fill="none"/><line x1="286" y1="345" x2="334" y2="345" stroke="#111" stroke-width="0.6" opacity="0.7"/><line x1="286" y1="354" x2="334" y2="354" stroke="#111" stroke-width="0.6" opacity="0.7"/><line x1="286" y1="363" x2="334" y2="363" stroke="#111" stroke-width="0.6" opacity="0.7"/><line x1="286" y1="372" x2="334" y2="372" stroke="#111" stroke-width="0.6" opacity="0.7"/></g>
<rect x="297.5" y="235.4" width="26.0" height="2.0" fill="#000"/><polygon points="291.0,236.4 298.0,234.4 298.0,238.4" fill="#000"/><polygon points="330.0,236.4 323.0,234.4 323.0,238.4" fill="#000"/>
<rect x="301.5" y="242.6" width="18.0" height="4.0" fill="#000"/><polygon points="295.0,244.6 302.0,241.3 302.0,247.8" fill="#000"/><polygon points="326.0,244.6 319.0,241.3 319.0,247.8" fill="#000"/>
<rect x="296.9" y="251.7" width="26.5" height="3.4" fill="#000"/><polygon points="287.0,253.4 297.4,249.4 297.4,257.4" fill="#000"/><polygon points="333.4,253.4 323.0,249.4 323.0,257.4" fill="#000"/>
<rect x="288.8" y="260.9" width="43.2" height="3.6" fill="#000"/><polygon points="277.3,262.7 289.3,257.9 289.3,267.4" fill="#000"/><polygon points="343.5,262.7 331.5,257.9 331.5,267.4" fill="#000"/><polygon points="286.3,262.7 295.3,259.4 295.3,266.0" fill="#000"/><polygon points="334.5,262.7 325.5,259.4 325.5,266.0" fill="#000"/>
<rect x="283.1" y="270.9" width="57.2" height="3.8" fill="#000"/><polygon points="270.6,272.8 283.6,267.3 283.6,278.3" fill="#000"/><polygon points="352.8,272.8 339.8,267.3 339.8,278.3" fill="#000"/><polygon points="280.4,272.8 290.1,268.9 290.1,276.7" fill="#000"/><polygon points="343.1,272.8 333.3,268.9 333.3,276.7" fill="#000"/>
<rect x="283.1" y="281.4" width="57.2" height="3.8" fill="#000"/><polygon points="270.6,283.3 283.6,277.8 283.6,288.8" fill="#000"/><polygon points="352.8,283.3 339.8,277.8 339.8,288.8" fill="#000"/><polygon points="280.4,283.3 290.1,279.4 290.1,287.2" fill="#000"/><polygon points="343.1,283.3 333.3,279.4 333.3,287.2" fill="#000"/>
<rect x="283.6" y="291.1" width="58.6" height="3.8" fill="#000"/><polygon points="270.6,293.0 284.1,287.5 284.1,298.5" fill="#000"/><polygon points="355.2,293.0 341.7,287.5 341.7,298.5" fill="#000"/><polygon points="280.7,293.0 290.9,289.1 290.9,296.9" fill="#000"/><polygon points="345.1,293.0 334.9,289.1 334.9,296.9" fill="#000"/>
<rect x="284.1" y="300.6" width="62.4" height="4.0" fill="#000"/><polygon points="270.6,302.6 284.6,296.6 284.6,308.6" fill="#000"/><polygon points="360.0,302.6 346.0,296.6 346.0,308.6" fill="#000"/><polygon points="281.1,302.6 291.6,298.4 291.6,306.8" fill="#000"/><polygon points="349.5,302.6 339.0,298.4 339.0,306.8" fill="#000"/>
<rect x="284.5" y="310.5" width="51.0" height="3.6" fill="#000"/><polygon points="273.0,312.3 285.0,307.3 285.0,317.3" fill="#000"/><polygon points="347.0,312.3 335.0,307.3 335.0,317.3" fill="#000"/><polygon points="282.0,312.3 291.0,308.8 291.0,315.8" fill="#000"/><polygon points="338.0,312.3 329.0,308.8 329.0,315.8" fill="#000"/>
<rect x="293.5" y="320.4" width="34.0" height="3.2" fill="#000"/><polygon points="284.0,322.0 294.0,318.0 294.0,326.0" fill="#000"/><polygon points="337.0,322.0 327.0,318.0 327.0,326.0" fill="#000"/><polygon points="291.5,322.0 299.0,319.2 299.0,324.8" fill="#000"/><polygon points="329.5,322.0 322.0,319.2 322.0,324.8" fill="#000"/>
<rect x="296.0" y="330.7" width="27.5" height="2.6" fill="#000"/><polygon points="288.5,332.0 296.5,328.8 296.5,335.2" fill="#000"/><polygon points="331.0,332.0 323.0,328.8 323.0,335.2" fill="#000"/>
<g clip-path="url(#cd4)"><path d="M417.9,200.2 L458.8,200.2 L458.8,226 C458.8,236 454,243 449,248 C446.5,251 444,254 443,257 L434,257 C433,254 430.5,251 428,248 C423,243 417.9,236 417.9,226 Z" fill="url(#d4_top)"/><path d="M418,211.5 Q438,222 459,211.5" stroke="#d03060" stroke-width="0.9" fill="none"/><line x1="417" y1="214" x2="460" y2="214" stroke="#0a0a50" stroke-width="1" opacity="0.6"/><line x1="417" y1="220" x2="460" y2="220" stroke="#0a0a50" stroke-width="1" opacity="0.6"/><line x1="417" y1="225.5" x2="460" y2="225.5" stroke="#0a0a50" stroke-width="1" opacity="0.6"/><line x1="417" y1="230" x2="460" y2="230" stroke="#0a0a50" stroke-width="1" opacity="0.6"/><ellipse cx="439" cy="235.5" rx="11" ry="2.8" fill="#050530" opacity="0.85"/></g>
<path d="M433.5,256 C435,261 435.5,267 435.6,275 L435.6,312 C435.8,328 437,340 438.3,348 C439.6,340 440.8,328 441,312 L441,275 C441.1,267 441.6,261 443,256 Z" fill="url(#d4_stream)"/>
<polygon points="412.4,241 422.5,238.5 422.5,244.5" fill="#000"/>
<polygon points="463.5,241 453.8,238.5 453.8,244.5" fill="#000"/>
<path d="M402,253.5 Q440,256 478,252.8" stroke="#000" stroke-width="3.4" fill="none"/>
<polygon points="492,252.5 476,247.2 476,258.3" fill="#000"/>
<g clip-path="url(#cd5)"><path d="M438.3,370.5 C440,374 443,376.5 446,378 C456,380 462.8,389 462.8,401.5 C462.8,415 452,425.7 438.3,425.7 C424.6,425.7 413.5,415 413.5,401.5 C413.5,389 420,380 430.5,378 C433.5,376.5 436.5,374 438.3,370.5 Z" fill="#1414c4"/><path d="M432,376 L444,376 L438.3,370 Z" fill="#40b0f0"/><ellipse cx="438.3" cy="380.5" rx="13" ry="2.6" fill="#000020" opacity="0.85"/><line x1="421.3" y1="388" x2="455.3" y2="388" stroke="#000030" stroke-width="1.3" opacity="0.45"/><line x1="419.3" y1="395" x2="457.3" y2="395" stroke="#000030" stroke-width="1.3" opacity="0.45"/><line x1="418.3" y1="402" x2="458.3" y2="402" stroke="#000030" stroke-width="1.3" opacity="0.45"/><line x1="419.3" y1="409" x2="457.3" y2="409" stroke="#000030" stroke-width="1.3" opacity="0.45"/><line x1="423.3" y1="416" x2="453.3" y2="416" stroke="#000030" stroke-width="1.3" opacity="0.45"/></g>
<polygon points="418.7,381 426,377.5 426,383" fill="#000"/>
<polygon points="458,381 450,377.5 450,383" fill="#000"/>
</svg></body></html>
